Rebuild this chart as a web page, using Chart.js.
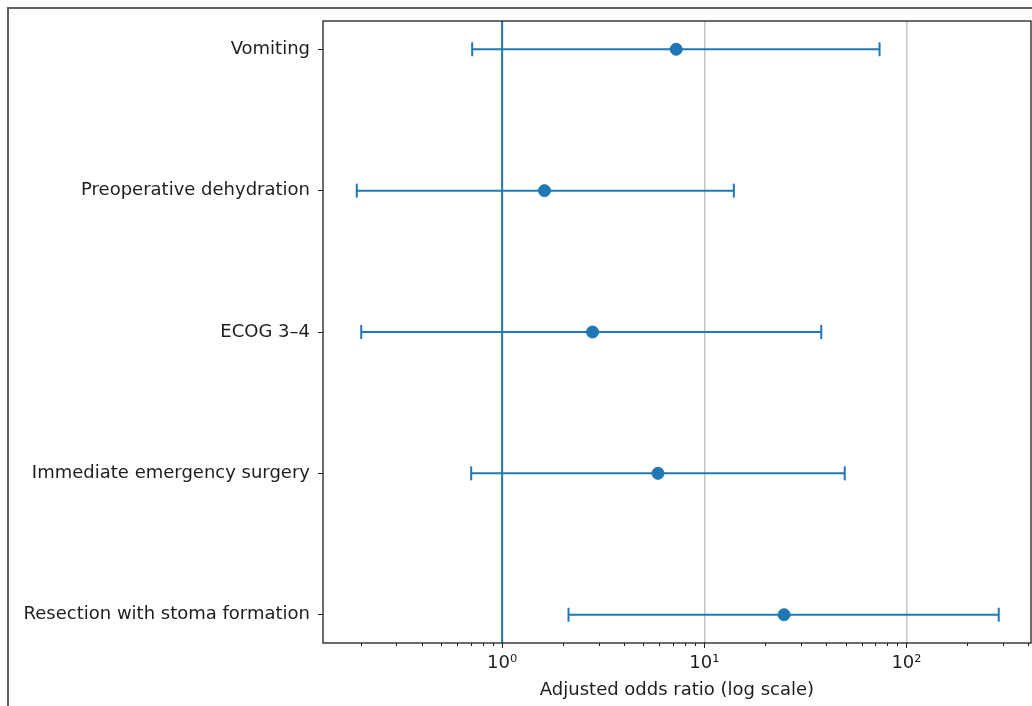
<!DOCTYPE html>
<html>
<head>
<meta charset="utf-8">
<script src="https://cdn.jsdelivr.net/npm/chart.js@4"></script>
<style>
  html, body { margin: 0; padding: 0; background: #fff; }
  #wrap { position: relative; width: 1032px; height: 706px; overflow: hidden; }
  #frame { position: absolute; left: 7px; top: 7px; width: 1200px; height: 900px;
           border: 2px solid #5f5f5f; pointer-events: none; }
</style>
</head>
<body>
<div id="wrap">
  <canvas id="forest" width="1032" height="706"></canvas>
  <div id="frame"></div>
</div>
<script>
const factors = [
  'Vomiting',
  'Preoperative dehydration',
  'ECOG 3–4',
  'Immediate emergency surgery',
  'Resection with stoma formation'
];
const oddsRatio = [7.26, 1.62, 2.80, 5.90, 24.8];
const ciLower = [0.711, 0.191, 0.201, 0.703, 2.13];
const ciUpper = [73.6, 14.0, 37.9, 49.5, 286];

const majorTicks = [1, 10, 100];
const majorLabels = ['10⁰', '10¹', '10²'];
const minorTicks = [0.2, 0.3, 0.4, 0.5, 0.6, 0.7, 0.8, 0.9,
  2, 3, 4, 5, 6, 7, 8, 9, 20, 30, 40, 50, 60, 70, 80, 90, 200, 300, 400];

const blue = '#1f77b4';
const ink = '#1e1e1e';
const font = { family: 'DejaVu Sans', size: 18 };

// one line per row from lower to upper bound, caps as rotated line points
const ciSets = factors.map((f, i) => ({
  type: 'line',
  label: f,
  data: [{ x: ciLower[i], y: i }, { x: ciUpper[i], y: i }],
  borderColor: blue,
  borderWidth: 2,
  pointStyle: 'line',
  pointRotation: 90,
  pointRadius: 7,
  pointBorderWidth: 2,
  pointBorderColor: blue,
  order: 2
}));

const refLine = {
  type: 'line',
  data: [{ x: 1, y: -0.2 }, { x: 1, y: 4.2 }],
  borderColor: blue,
  borderWidth: 2,
  pointRadius: 0,
  order: 3
};

const estimates = {
  type: 'scatter',
  data: factors.map((f, i) => ({ x: oddsRatio[i], y: i })),
  backgroundColor: blue,
  borderColor: blue,
  pointRadius: 6,
  order: 1
};

// spines on all four sides and x tick marks (major + minor)
const axesDecor = {
  id: 'axesDecor',
  afterDraw(chart) {
    const { ctx, chartArea: a, scales: { x } } = chart;
    ctx.save();
    ctx.strokeStyle = ink;
    ctx.lineWidth = 1.3;
    ctx.strokeRect(a.left, a.top, a.right - a.left, a.bottom - a.top);
    ctx.lineWidth = 1;
    const mark = (v, len) => {
      const px = Math.round(x.getPixelForValue(v)) + 0.5;
      ctx.beginPath();
      ctx.moveTo(px, a.bottom);
      ctx.lineTo(px, a.bottom + len);
      ctx.stroke();
    };
    majorTicks.forEach(v => mark(v, 5));
    minorTicks.forEach(v => mark(v, 3));
    ctx.restore();
  }
};

new Chart(document.getElementById('forest'), {
  data: { datasets: [refLine, ...ciSets, estimates] },
  options: {
    responsive: false,
    animation: false,
    layout: { autoPadding: false, padding: { top: 21, right: 1, left: 0, bottom: 0 } },
    plugins: { legend: { display: false }, tooltip: { enabled: false } },
    scales: {
      x: {
        type: 'logarithmic',
        min: 0.13,
        max: 413,
        afterBuildTicks: (s) => { s.ticks = majorTicks.map(v => ({ value: v })); },
        afterFit: (s) => { s.height = 63; s.paddingLeft = 0; s.paddingRight = 0; },
        ticks: {
          autoSkip: false,
          maxRotation: 0,
          padding: 10,
          color: ink,
          font,
          callback: (v) => majorLabels[majorTicks.indexOf(v)]
        },
        grid: { drawTicks: false, color: (c) => c.tick && c.tick.value !== 1 ? '#c4c4c4' : 'transparent', lineWidth: 1.5 },
        border: { display: false },
        title: {
          display: true,
          text: 'Adjusted odds ratio (log scale)',
          color: ink,
          font,
          padding: { top: 0, bottom: 5 }
        }
      },
      y: {
        type: 'linear',
        reverse: true,
        min: -0.2,
        max: 4.2,
        afterBuildTicks: (s) => { s.ticks = factors.map((f, i) => ({ value: i })); },
        afterFit: (s) => { s.width = 323; s.paddingTop = 0; s.paddingBottom = 0; },
        ticks: {
          autoSkip: false,
          padding: 8,
          color: ink,
          font,
          callback: (v) => factors[v]
        },
        grid: { drawOnChartArea: false, drawTicks: true, tickLength: 5, tickColor: ink },
        border: { display: false }
      }
    }
  },
  plugins: [axesDecor]
});
</script>
</body>
</html>
